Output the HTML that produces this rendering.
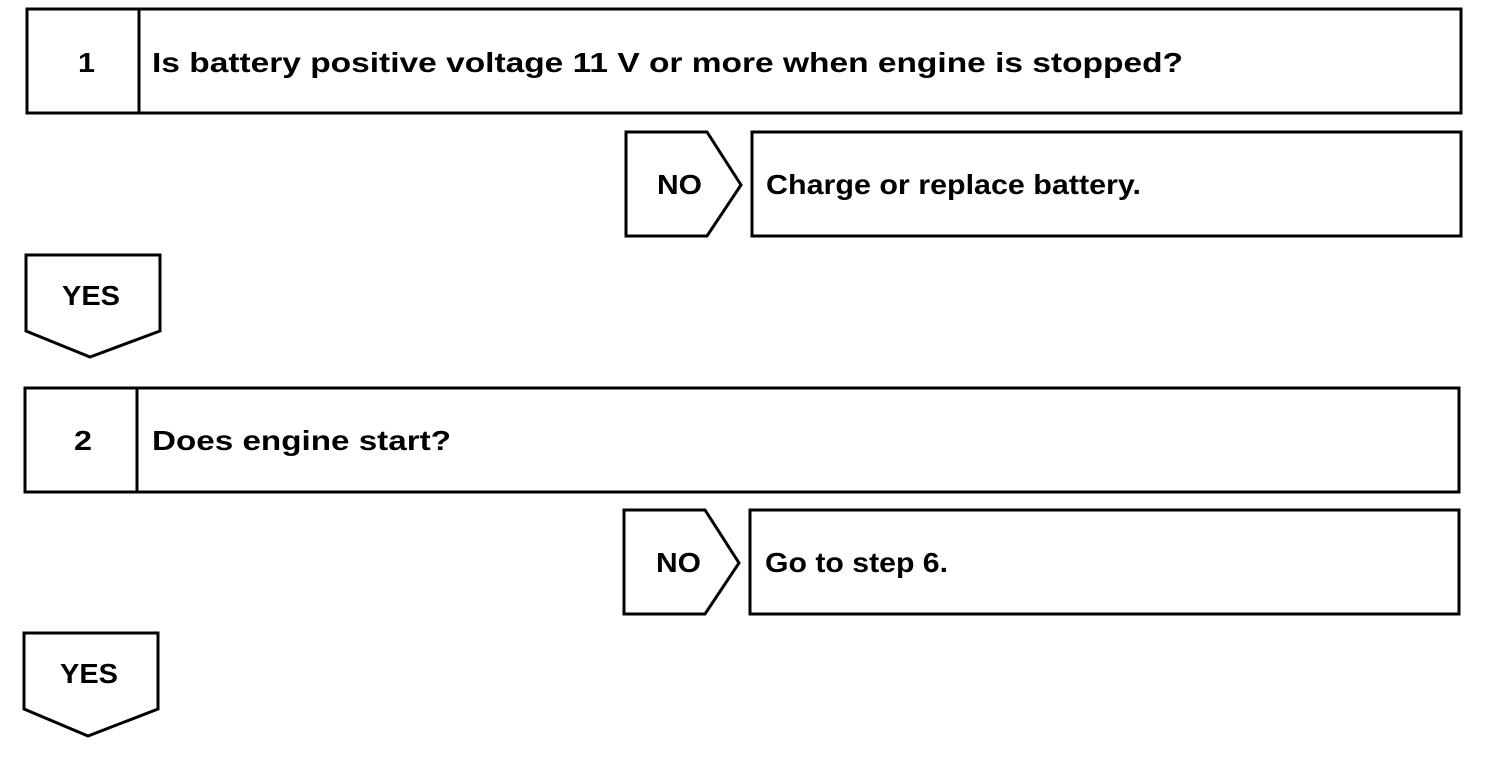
<!DOCTYPE html>
<html><head><meta charset="utf-8"><style>body{margin:0;background:#fff}svg{display:block}</style></head>
<body>
<svg width="1504" height="762" viewBox="0 0 1504 762" xmlns="http://www.w3.org/2000/svg">
<g fill="none" stroke="#000" stroke-width="3" stroke-linejoin="miter">
<rect x="27" y="9" width="1434" height="104"/>
<line x1="139" y1="9" x2="139" y2="113"/>
<path d="M626 132 H707 L741 185 L707 236 H626 Z"/>
<rect x="752" y="132" width="709" height="104"/>
<path d="M26 255 H160 V331 L90 357 L26 331 Z"/>
<rect x="25" y="388" width="1434" height="104"/>
<line x1="137" y1="388" x2="137" y2="492"/>
<path d="M624 510 H705 L739 563 L705 614 H624 Z"/>
<rect x="750" y="510" width="709" height="104"/>
<path d="M24 633 H158 V709 L88 736 L24 709 Z"/>
</g>
<g font-family="Liberation Sans, Arial, sans-serif" font-weight="bold" font-size="28" fill="#000">
<text x="78" y="72" textLength="17" lengthAdjust="spacingAndGlyphs">1</text>
<text x="152" y="72" textLength="1031" lengthAdjust="spacingAndGlyphs">Is battery positive voltage 11 V or more when engine is stopped?</text>
<text x="657" y="194" textLength="45" lengthAdjust="spacingAndGlyphs">NO</text>
<text x="766" y="194" textLength="375" lengthAdjust="spacingAndGlyphs">Charge or replace battery.</text>
<text x="62" y="305" textLength="58" lengthAdjust="spacingAndGlyphs">YES</text>
<text x="74" y="450" textLength="18" lengthAdjust="spacingAndGlyphs">2</text>
<text x="152" y="450" textLength="299" lengthAdjust="spacingAndGlyphs">Does engine start?</text>
<text x="656" y="572" textLength="45" lengthAdjust="spacingAndGlyphs">NO</text>
<text x="765" y="572" textLength="183" lengthAdjust="spacingAndGlyphs">Go to step 6.</text>
<text x="60" y="683" textLength="58" lengthAdjust="spacingAndGlyphs">YES</text>
</g>
</svg>
</body></html>
